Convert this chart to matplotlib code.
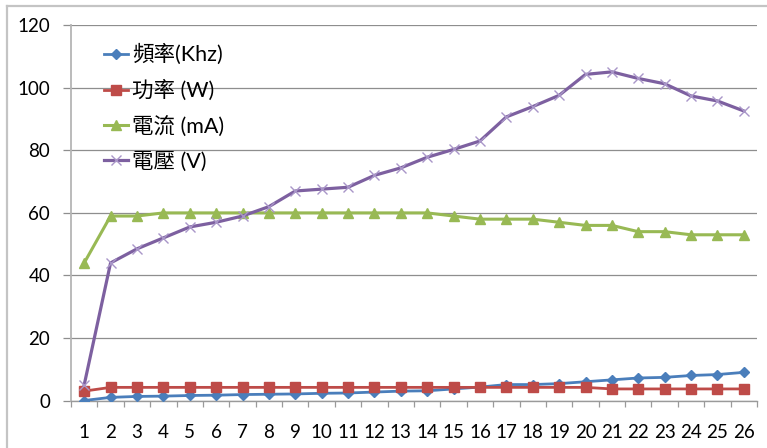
import matplotlib
matplotlib.use("Agg")
import matplotlib.pyplot as plt
from matplotlib.lines import Line2D
from matplotlib.ticker import FixedLocator

plt.rcParams['font.family'] = ['Lato', 'Noto Sans CJK TC', 'DejaVu Sans']

# Sample index 1..26
categories = list(range(1, 27))

freq_khz = [0.0, 1.0, 1.3, 1.4, 1.6, 1.7, 1.9, 2.0, 2.1, 2.3, 2.4, 2.7, 3.0, 3.1,
            3.7, 4.3, 5.1, 5.1, 5.4, 6.0, 6.6, 7.2, 7.4, 8.0, 8.3, 9.0]
power_w = [3.0, 4.2, 4.2, 4.2, 4.2, 4.2, 4.2, 4.2, 4.2, 4.2, 4.2, 4.2, 4.2, 4.2,
           4.2, 4.2, 4.2, 4.2, 4.2, 4.2, 3.7, 3.7, 3.7, 3.7, 3.7, 3.7]
current_ma = [44, 59, 59, 60, 60, 60, 60, 60, 60, 60, 60, 60, 60, 60,
              59, 58, 58, 58, 57, 56, 56, 54, 54, 53, 53, 53]
voltage_v = [5, 44, 48.5, 52, 55.5, 57, 59, 62, 67, 67.6, 68.2, 72, 74.4, 77.8,
             80.3, 83, 90.7, 94, 97.6, 104.3, 105.1, 103, 101.3, 97.4, 95.8, 92.6]

labels = ['頻率(Khz)', '功率 (W)', '電流 (mA)', '電壓 (V)']
y_ticks = [0, 20, 40, 60, 80, 100, 120]

W, H = 767, 448
fig = plt.figure(figsize=(W / 100, H / 100), dpi=100)
ax = fig.add_axes([71 / W, (H - 400.5) / H, (757 - 71) / W, (400.5 - 25.3) / H])

# Outer chart border (left and top edges visible)
border = '#C4C4C4'
fig.add_artist(Line2D([7.3 / W, 7.3 / W], [0, 1 - 5.7 / H], transform=fig.transFigure,
                      color=border, lw=1.6))
fig.add_artist(Line2D([7.3 / W, 1], [1 - 5.7 / H, 1 - 5.7 / H], transform=fig.transFigure,
                      color=border, lw=1.6))

blue = '#4A7EBB'
red = '#BE4B48'
green = '#98B954'
purple = '#7D60A0'

ax.plot(categories, freq_khz, color=blue, lw=2.0, marker='D', ms=5.2,
        markeredgecolor=blue, label=labels[0], zorder=3)
ax.plot(categories, power_w, color=red, lw=2.0, marker='s', ms=6.5,
        markeredgecolor=red, label=labels[1], zorder=3)
ax.plot(categories, current_ma, color=green, lw=2.2, marker='^', ms=7.0,
        markeredgecolor=green, label=labels[2], zorder=3)
ax.plot(categories, voltage_v, color=purple, lw=2.3, marker='x', ms=7.5,
        markeredgecolor='#A996C8', mew=1.0, label=labels[3], zorder=4)

ax.set_xlim(0.5, 26.5)
ax.set_ylim(0, 120)

ax.yaxis.set_major_locator(FixedLocator(y_ticks))
ax.xaxis.set_major_locator(FixedLocator(categories))
ax.xaxis.set_minor_locator(FixedLocator([c - 0.5 for c in categories] + [26.5]))

ax.grid(axis='y', color='#8E8E8E', lw=0.9, zorder=0)
ax.set_axisbelow(True)

for side in ['top', 'right']:
    ax.spines[side].set_visible(False)
ax.spines['left'].set_color('#B5B5B5')
ax.spines['left'].set_linewidth(1.3)
ax.spines['bottom'].set_color('#9A9A9A')
ax.spines['bottom'].set_linewidth(1.0)

ax.tick_params(axis='y', which='major', direction='out', length=6, width=0.9,
               color='#8E8E8E', pad=9, labelsize=13.5)
ax.tick_params(axis='x', which='major', length=0, pad=17, labelsize=13.5)
ax.tick_params(axis='x', which='minor', direction='out', length=4.5, width=0.9,
               color='#9A9A9A')
for t in ax.get_xticklabels() + ax.get_yticklabels():
    t.set_color('#000000')

leg = ax.legend(loc='upper left', bbox_to_anchor=(104 / W, 1 - 44 / H),
                bbox_transform=fig.transFigure, frameon=False,
                prop={'size': 15.5}, handlelength=1.1, handletextpad=0.2,
                labelspacing=0.68, borderpad=0, borderaxespad=0)
for t in leg.get_texts():
    t.set_color('#000000')

fig.savefig('out.png', dpi=100)
